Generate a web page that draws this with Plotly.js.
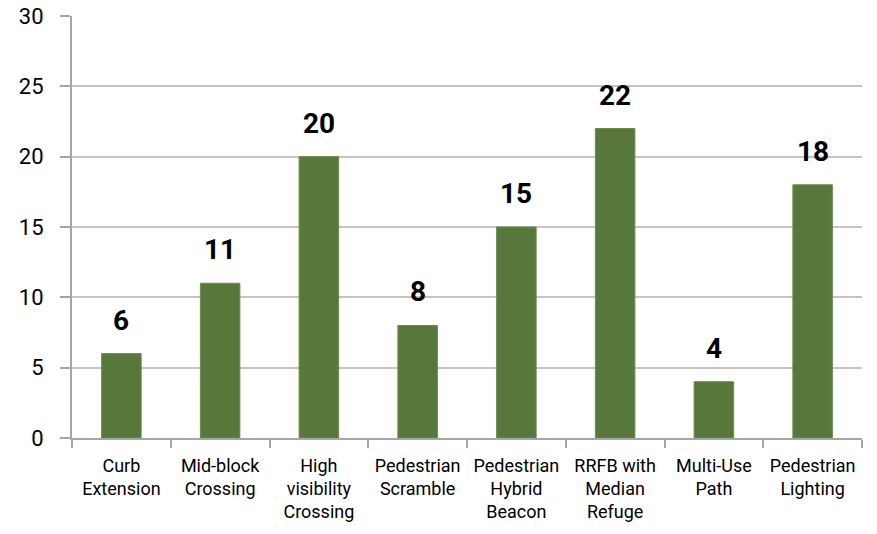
<!DOCTYPE html>
<html>
<head>
<meta charset="utf-8">
<script src="https://cdn.plot.ly/plotly-3.0.1.min.js"></script>
<style>html,body{margin:0;padding:0;background:#fff;}#chart{width:877px;height:534px;}</style>
</head>
<body>
<div id="chart"></div>
<script>
var categories = ["Curb<br>Extension", "Mid-block<br>Crossing", "High<br>visibility<br>Crossing", "Pedestrian<br>Scramble", "Pedestrian<br>Hybrid<br>Beacon", "RRFB with<br>Median<br>Refuge", "Multi-Use<br>Path", "Pedestrian<br>Lighting"];
var values = [6, 11, 20, 8, 15, 22, 4, 18];
var yTicks = [0, 5, 10, 15, 20, 25, 30];

var trace = {
  type: 'bar',
  x: categories,
  y: values,
  marker: {color: '#58773b', line: {color: '#6b8a4c', width: 1}},
  hoverinfo: 'none'
};

var annotations = categories.map(function(c, i){
  return {x: c, y: values[i], xref: 'x', yref: 'y', text: String(values[i]),
    showarrow: false, yanchor: 'bottom', yshift: 15,
    font: {family: 'Roboto, sans-serif', size: 28, color: '#000', weight: 'bold'}};
});

var layout = {
  width: 877, height: 534,
  margin: {l: 72, r: 15, t: 16, b: 96},
  paper_bgcolor: '#fff', plot_bgcolor: '#fff',
  bargap: 0.6,
  showlegend: false,
  xaxis: {
    type: 'category',
    tickson: 'boundaries',
    ticks: 'outside', ticklen: 8, tickcolor: '#a6a6a6', tickwidth: 2,
    showline: true, linecolor: '#a6a6a6', linewidth: 2,
    showgrid: false,
    ticklabelstandoff: 10,
    tickfont: {family: 'Roboto, sans-serif', size: 18, color: '#000'},
    tickangle: 0
  },
  yaxis: {
    range: [0, 30],
    tickvals: yTicks,
    ticks: 'outside', ticklen: 10, tickcolor: '#a6a6a6', tickwidth: 2,
    showline: true, linecolor: '#a6a6a6', linewidth: 2,
    showgrid: true, gridcolor: '#c4c4c4', gridwidth: 2,
    zeroline: false,
    ticklabelstandoff: 12,
    tickfont: {family: 'Roboto, sans-serif', size: 22, color: '#000'}
  },
  annotations: annotations
};

Plotly.newPlot('chart', [trace], layout, {staticPlot: true, displayModeBar: false});
</script>
</body>
</html>
